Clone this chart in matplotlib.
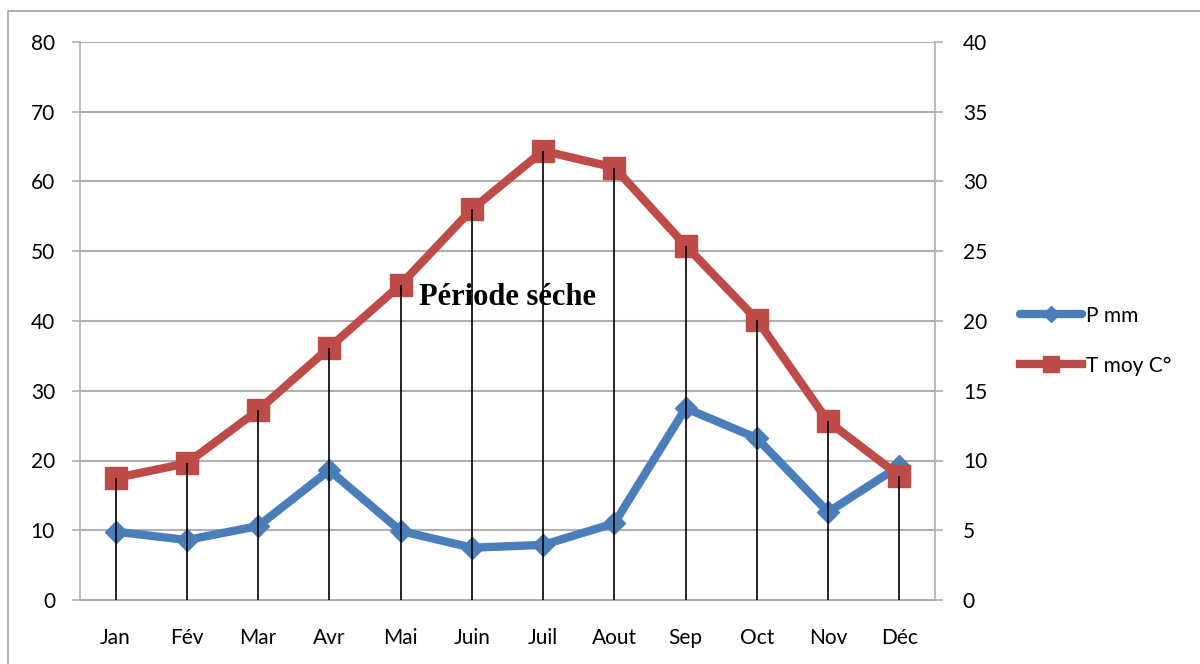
import matplotlib.pyplot as plt
from matplotlib.patches import Rectangle

months = ['Jan', 'Fév', 'Mar', 'Avr', 'Mai', 'Juin', 'Juil', 'Aout', 'Sep', 'Oct', 'Nov', 'Déc']
p_mm = [9.8, 8.6, 10.6, 18.6, 9.9, 7.5, 7.9, 11.0, 27.5, 23.2, 12.6, 19.2]
t_moy = [8.75, 9.8, 13.6, 18.1, 22.6, 28.0, 32.2, 31.0, 25.4, 20.1, 12.8, 8.9]

plt.rcParams['font.family'] = ['Lato', 'DejaVu Sans']

fig = plt.figure(figsize=(12, 6.64), dpi=100)
fig.patches.append(Rectangle((8 / 1200, -0.05), 1.1, (664 - 11) / 664 + 0.05,
                             transform=fig.transFigure, fill=False,
                             edgecolor='#a0a0a0', linewidth=1.2))

ax = fig.add_axes([80 / 1200, 64 / 664, 855 / 1200, 558 / 664])
ax2 = ax.twinx()
x = range(len(months))

grid_c = '#b0b0b0'
ax.set_ylim(0, 80)
ax.set_yticks(range(0, 81, 10))
ax.yaxis.grid(True, color=grid_c, linewidth=1.5)
ax.set_axisbelow(True)
ax.set_xlim(-0.5, 11.5)
ax.set_xticks(list(x))
ax.set_xticklabels(months)

ax2.set_ylim(0, 40)
ax2.set_yticks(range(0, 41, 5))

for a in (ax, ax2):
    for s in a.spines.values():
        s.set_visible(False)
    a.tick_params(axis='y', length=6, width=1.2, color=grid_c, labelsize=15)
ax.tick_params(axis='y', pad=12)
ax2.tick_params(axis='y', pad=14)
ax.tick_params(axis='x', length=0, labelsize=15, pad=20)
ax.spines['left'].set_visible(True)
ax.spines['left'].set_color(grid_c)
ax.spines['left'].set_linewidth(1.2)
ax2.spines['right'].set_visible(True)
ax2.spines['right'].set_color(grid_c)
ax2.spines['right'].set_linewidth(1.2)
ax.spines['bottom'].set_visible(True)
ax.spines['bottom'].set_color(grid_c)
ax.spines['bottom'].set_linewidth(1.5)

l1, = ax.plot(x, p_mm, color='#4a7ebb', linewidth=6, marker='D', markersize=11,
              solid_capstyle='round', label='P mm')
l2, = ax2.plot(x, t_moy, color='#be4b48', linewidth=6, marker='s', markersize=16,
               label='T moy C°')
ax2.vlines(x, 0, t_moy, color='black', linewidth=1.2, zorder=5)

ax.text(5.5, 43.3, 'Période séche', family='Liberation Serif', fontweight='bold',
        fontsize=22, ha='center', va='center', zorder=6)

fig.legend(handles=[l1, l2], loc='center left', bbox_to_anchor=(0.834, 0.487),
           frameon=False, fontsize=15, handlelength=3.0, handletextpad=0.2,
           labelspacing=1.45, markerscale=0.75)

fig.savefig('out.png', dpi=100)
